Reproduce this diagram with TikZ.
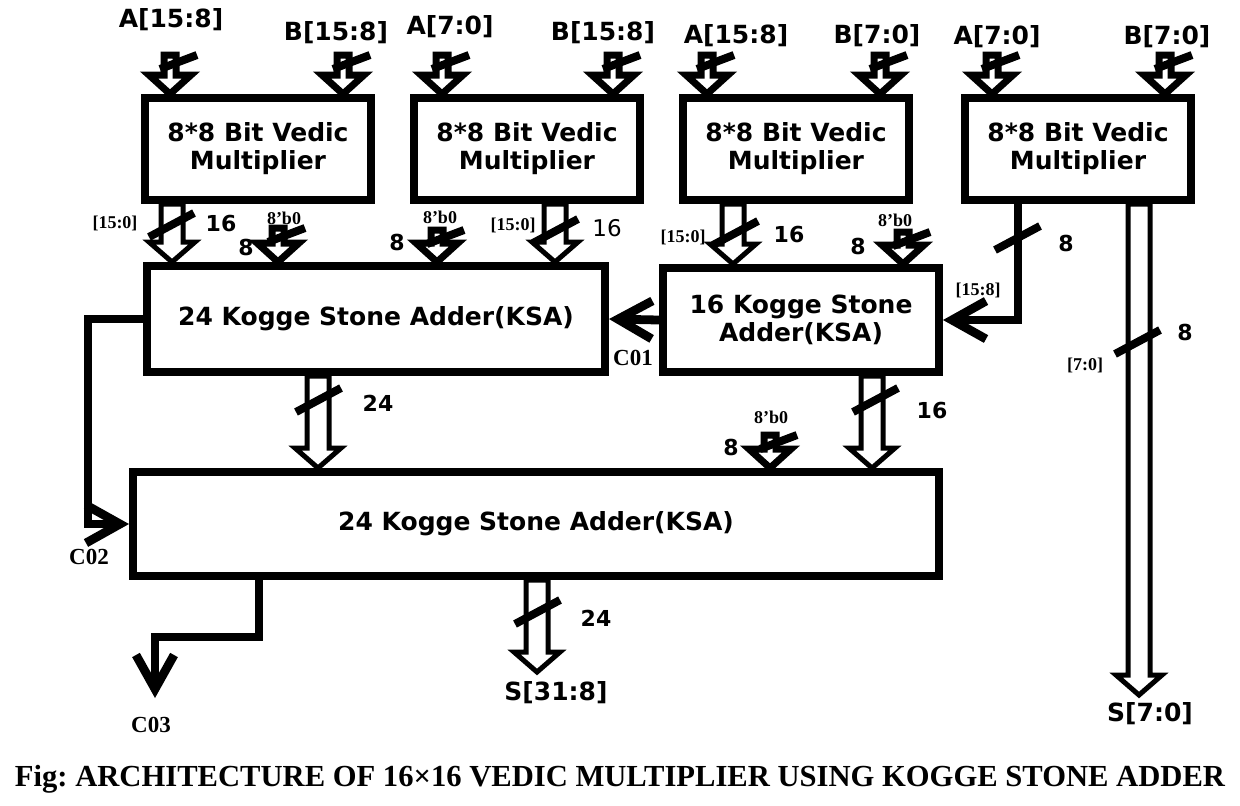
\documentclass[tikz,border=0pt]{standalone}
\usepackage{fontspec}
\setmainfont{Liberation Serif}
\newfontfamily\vfont{DejaVu Sans}
\usepackage{tikz}
\usetikzlibrary{positioning, arrows.meta, calc}

% hollow bus arrow pointing down: [opts]{shaft half width}{head half width}{head length}{from}{to}
\newcommand{\hollowarrow}[6][]{%
  \draw[busline,#1] let \p1=(#5), \p2=(#6) in
    (\x2-#2,\y1) -- (\x2-#2,\y2+#4) -- (\x2-#3,\y2+#4) -- (\x2,\y2)
    -- (\x2+#3,\y2+#4) -- (\x2+#2,\y2+#4) -- (\x2+#2,\y1) -- cycle;}
\newcommand{\busarrow}[2]{\hollowarrow{5.5pt}{11.5pt}{10pt}{#1}{#2}}
\newcommand{\inarrow}[2]{%
  \hollowarrow[line width=3.5pt]{3pt}{10.5pt}{9.5pt}{#1}{#2}
  \draw[slashline] let \p1=(#1) in (\x1-5pt,\y1-7pt) -- (\x1+13.5pt,\y1);}
\newcommand{\cutmark}[1]{\draw[slashline] (#1) ++(-22,12) -- ++(45,-24);}

\tikzset{
  vbox/.style={draw, line width=4pt, align=center, fill=white,
    font=\vfont\bfseries\fontsize{12.5pt}{14pt}\selectfont},
  mult/.style={vbox, minimum width=113pt, minimum height=51pt},
  busline/.style={draw, fill=white, line width=2.5pt, line join=miter},
  slashline/.style={line width=4pt},
  sigline/.style={line width=4.4pt, -{Straight Barb[length=17pt,width=19pt]}},
  inlab/.style={font=\vfont\bfseries\fontsize{12.5pt}{14pt}\selectfont},
  numlab/.style={font=\vfont\bfseries\fontsize{11pt}{13pt}\selectfont},
  bitlab/.style={font=\bfseries\fontsize{9pt}{11pt}\selectfont},
  clab/.style={font=\bfseries\fontsize{11.5pt}{13pt}\selectfont}
}

\begin{document}
\begin{tikzpicture}[x=0.5pt, y=-0.5pt, every node/.style={inner sep=1.5pt}]
  \useasboundingbox (0,0) rectangle (1240,805);

  % multipliers
  \node[mult] (m1) at (258,149) {8*8 Bit Vedic\\Multiplier};
  \node[mult] (m2) at (527,149) {8*8 Bit Vedic\\Multiplier};
  \node[mult] (m3) at (796,149) {8*8 Bit Vedic\\Multiplier};
  \node[mult] (m4) at (1078,149) {8*8 Bit Vedic\\Multiplier};

  % adders
  \node[vbox, minimum width=229pt, minimum height=53pt] (ksa24a) at (376,319) {24 Kogge Stone Adder(KSA)};
  \node[vbox, minimum width=138pt, minimum height=52pt] (ksa16) at (801,320) {16 Kogge Stone\\Adder(KSA)};
  \node[vbox, minimum width=403pt, minimum height=52pt] (ksa24b) at (536,524) {24 Kogge Stone Adder(KSA)};

  % operand inputs
  \node[inlab] (la1) at (171,20) {A[15:8]};
  \node[inlab] (lb1) at (336,33) {B[15:8]};
  \node[inlab] (la2) at (450,27) {A[7:0]};
  \node[inlab] (lb2) at (603,33) {B[15:8]};
  \node[inlab] (la3) at (736,36) {A[15:8]};
  \node[inlab] (lb3) at (877,36) {B[7:0]};
  \node[inlab] (la4) at (997,37) {A[7:0]};
  \node[inlab] (lb4) at (1167,37) {B[7:0]};
  \coordinate (ia1) at (170,55);  \inarrow{ia1}{ia1 |- m1.north}
  \coordinate (ib1) at (343,55);  \inarrow{ib1}{ib1 |- m1.north}
  \coordinate (ia2) at (442,55);  \inarrow{ia2}{ia2 |- m2.north}
  \coordinate (ib2) at (613,55);  \inarrow{ib2}{ib2 |- m2.north}
  \coordinate (ia3) at (707,55);  \inarrow{ia3}{ia3 |- m3.north}
  \coordinate (ib3) at (880,55);  \inarrow{ib3}{ib3 |- m3.north}
  \coordinate (ia4) at (992,55);  \inarrow{ia4}{ia4 |- m4.north}
  \coordinate (ib4) at (1165,55); \inarrow{ib4}{ib4 |- m4.north}

  % multiplier outputs
  \coordinate (o1) at (172,0);
  \busarrow{o1 |- m1.south}{o1 |- ksa24a.north}
  \cutmark{171,225}
  \node[bitlab] (w1) at (115,223) {[15:0]};
  \node[numlab] (n1) at (221,223) {16};

  \coordinate (o2) at (555,0);
  \busarrow{o2 |- m2.south}{o2 |- ksa24a.north}
  \cutmark{555,231}
  \node[bitlab] (w2) at (513,225) {[15:0]};
  \node[font=\vfont\fontsize{11.5pt}{13pt}\selectfont] (n2) at (607,228) {16};

  \coordinate (o3) at (733,0);
  \busarrow{o3 |- m3.south}{o3 |- ksa16.north}
  \cutmark{735,233}
  \node[bitlab] (w3) at (683,237) {[15:0]};
  \node[numlab] (n3) at (789,234) {16};

  \coordinate (o4) at (1018,0);
  \draw[sigline] (o4 |- m4.south) |- (ksa16.east);
  \cutmark{1017,238}
  \node[numlab] (n4) at (1066,243) {8};
  \node[bitlab] (w4) at (978,290) {[15:8]};

  \coordinate (o5) at (1139,0);
  \coordinate (t70) at (1139,695);
  \busarrow{o5 |- m4.south}{t70}
  \cutmark{1137,342}
  \node[numlab] (n5) at (1185,332) {8};
  \node[bitlab] (w5) at (1085,365) {[7:0]};
  \node[inlab] (s70) at (1150,714) {S[7:0]};

  % zero padding inputs
  \coordinate (z1) at (278,228); \inarrow{z1}{z1 |- ksa24a.north}
  \node[numlab] at (246,247) {8};
  \node[bitlab] at (284,218) {8'b0};
  \coordinate (z2) at (437,230); \inarrow{z2}{z2 |- ksa24a.north}
  \node[numlab] at (397,242) {8};
  \node[bitlab] at (440,217) {8'b0};
  \coordinate (z3) at (903,232); \inarrow{z3}{z3 |- ksa16.north}
  \node[numlab] at (858,246) {8};
  \node[bitlab] at (895,220) {8'b0};
  \coordinate (z4) at (770,435); \inarrow{z4}{z4 |- ksa24b.north}
  \node[numlab] at (731,447) {8};
  \node[bitlab] at (771,417) {8'b0};

  % carries
  \draw[sigline] (ksa16.west) -- (ksa24a.east);
  \node[clab] (c01) at (633,358) {C01};
  \coordinate (c2) at (88,420);
  \draw[sigline] (ksa24a.west) -| (c2) |- (ksa24b.west);
  \node[clab] (c02) at (89,557) {C02};
  \coordinate (c3) at (259,637);
  \coordinate (t03) at (155,698);
  \draw[sigline] (c3 |- ksa24b.south) -- (c3) -| (t03);
  \node[clab] (c03) at (151,725) {C03};

  % adder outputs
  \coordinate (o6) at (318,0);
  \busarrow{o6 |- ksa24a.south}{o6 |- ksa24b.north}
  \cutmark{318,400}
  \node[numlab] at (378,403) {24};
  \coordinate (o7) at (872,0);
  \busarrow{o7 |- ksa16.south}{o7 |- ksa24b.north}
  \cutmark{875,400}
  \node[numlab] at (932,410) {16};
  \coordinate (t31) at (537,672);
  \busarrow{t31 |- ksa24b.south}{t31}
  \cutmark{537,612}
  \node[numlab] at (596,618) {24};
  \node[inlab] (s31) at (556,693) {S[31:8]};

  \node[font=\bfseries\frenchspacing\fontsize{15.3pt}{17pt}\selectfont] (cap) at (620,779)
    {Fig: ARCHITECTURE OF 16×16 VEDIC MULTIPLIER USING KOGGE STONE ADDER};
\end{tikzpicture}
\end{document}
